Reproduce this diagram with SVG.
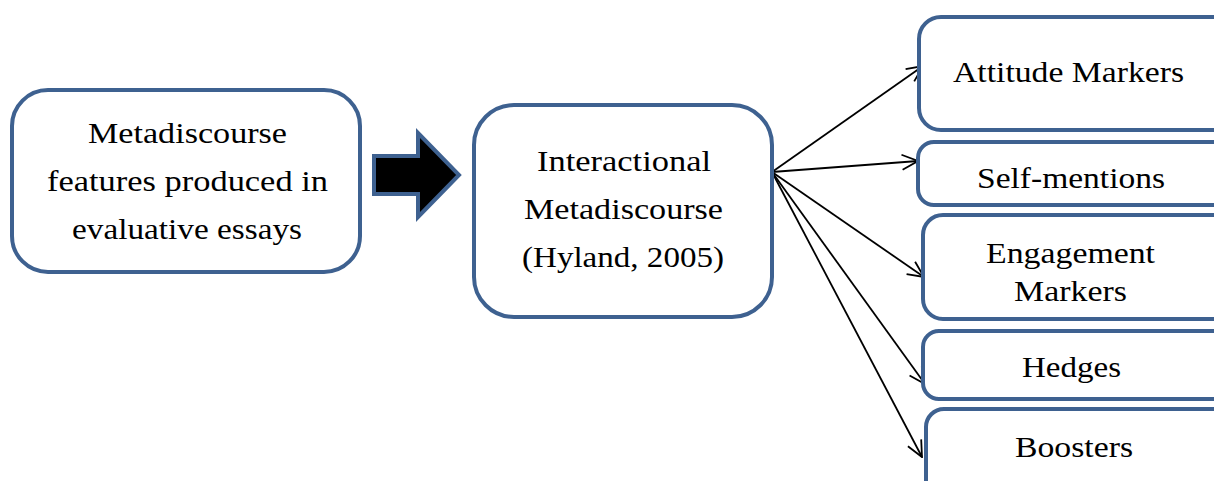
<svg xmlns="http://www.w3.org/2000/svg" width="1214" height="481" viewBox="0 0 1214 481">
<style>
.box{fill:#fff;stroke:#3e6190;stroke-width:4}
.t{font-family:"Liberation Serif","Times New Roman",serif;font-size:30px;fill:#000;text-anchor:middle}
.c{stroke:#000;stroke-width:1.8;fill:none;marker-end:url(#ah)}
</style>
<defs>
<marker id="ah" viewBox="0 0 18 18" refX="17" refY="9" markerWidth="18" markerHeight="18" markerUnits="userSpaceOnUse" orient="auto">
<polyline points="1,1.5 17,9 1,16.5" fill="none" stroke="#000" stroke-width="1.8"/>
</marker>
</defs>
<rect width="1214" height="481" fill="#fff"/>
<g id="connectors">
<line class="c" x1="772" y1="172" x2="923" y2="66"/>
<line class="c" x1="772" y1="172" x2="918" y2="161"/>
<line class="c" x1="772" y1="172" x2="924" y2="277"/>
<line class="c" x1="772" y1="172" x2="925" y2="384"/>
<line class="c" x1="772" y1="172" x2="922" y2="457"/>
</g>
<g id="source">
<rect class="box" x="12" y="90" width="348" height="182" rx="36"/>
<text class="t" x="187.5" y="143" textLength="199" lengthAdjust="spacingAndGlyphs">Metadiscourse</text>
<text class="t" x="187.5" y="191" textLength="281" lengthAdjust="spacingAndGlyphs">features produced in</text>
<text class="t" x="187" y="239" textLength="230" lengthAdjust="spacingAndGlyphs">evaluative essays</text>
</g>
<g id="block-arrow">
<polygon points="374,156 418,156 418,133 459,175 418,217 418,194 374,194" fill="#000" stroke="#3e6190" stroke-width="4" stroke-linejoin="miter"/>
</g>
<g id="interactional">
<rect class="box" x="474" y="105" width="298" height="212" rx="40"/>
<text class="t" x="624" y="171" textLength="174" lengthAdjust="spacingAndGlyphs">Interactional</text>
<text class="t" x="623.5" y="219" textLength="199" lengthAdjust="spacingAndGlyphs">Metadiscourse</text>
<text class="t" x="623" y="267" textLength="202" lengthAdjust="spacingAndGlyphs">(Hyland, 2005)</text>
</g>
<g id="attitude">
<rect class="box" x="919" y="17" width="320" height="113" rx="22"/>
<text class="t" x="1068.5" y="82" textLength="231" lengthAdjust="spacingAndGlyphs">Attitude Markers</text>
</g>
<g id="self-mentions">
<rect class="box" x="918" y="142" width="320" height="63" rx="16"/>
<text class="t" x="1071" y="188" textLength="188" lengthAdjust="spacingAndGlyphs">Self-mentions</text>
</g>
<g id="engagement">
<rect class="box" x="923" y="215" width="316" height="104" rx="20"/>
<text class="t" x="1070.5" y="263" textLength="169" lengthAdjust="spacingAndGlyphs">Engagement</text>
<text class="t" x="1070.5" y="301" textLength="113" lengthAdjust="spacingAndGlyphs">Markers</text>
</g>
<g id="hedges">
<rect class="box" x="923" y="331" width="316" height="68" rx="16"/>
<text class="t" x="1071.5" y="377" textLength="99" lengthAdjust="spacingAndGlyphs">Hedges</text>
</g>
<g id="boosters">
<rect class="box" x="926" y="409" width="316" height="90" rx="18"/>
<text class="t" x="1074" y="457" textLength="118" lengthAdjust="spacingAndGlyphs">Boosters</text>
</g>
</svg>
